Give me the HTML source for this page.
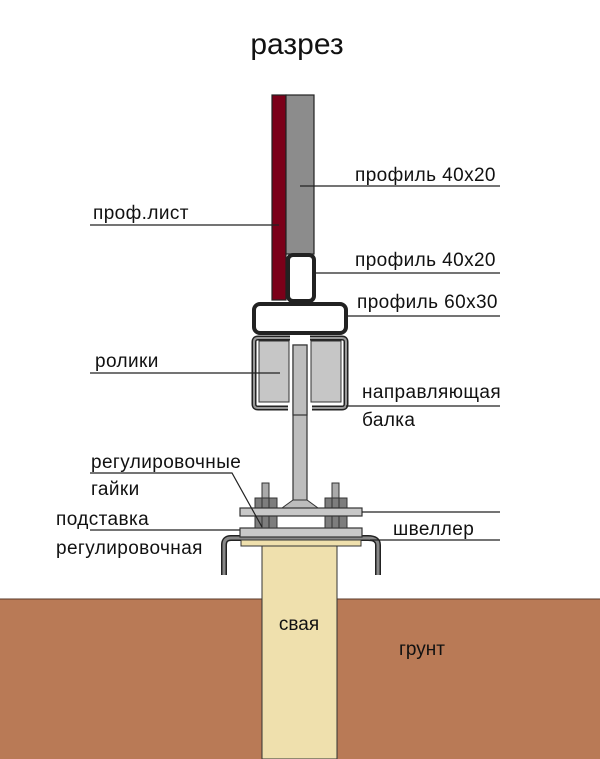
<!DOCTYPE html>
<html><head><meta charset="utf-8"><style>
html,body{margin:0;padding:0;background:#fff}
svg{display:block}
text{font-family:"Liberation Sans","DejaVu Sans",sans-serif;fill:#111}
</style></head><body>
<svg width="600" height="759" viewBox="0 0 600 759" xmlns="http://www.w3.org/2000/svg">
<rect x="0" y="599" width="600" height="160" fill="#b97a56"/>
<line x1="0" y1="599" x2="600" y2="599" stroke="#5a3a2a" stroke-width="1"/>
<rect x="262" y="545" width="75" height="214" fill="#efe0ad" stroke="#333" stroke-width="1"/>
<text x="299" y="630" font-size="19" text-anchor="middle">свая</text>
<text x="422" y="655" font-size="19" text-anchor="middle">грунт</text>
<text x="297" y="54" font-size="30" text-anchor="middle">разрез</text>

<path d="M224 575 L224 545 Q224 538 231 538 L368 538 Q378 538 378 545 L378 575" fill="none" stroke="#222" stroke-width="6"/>
<path d="M224 575 L224 545 Q224 538 231 538 L368 538 Q378 538 378 545 L378 575" fill="none" stroke="#888" stroke-width="3"/>
<rect x="241" y="540" width="120" height="6" fill="#efe0ad" stroke="#333" stroke-width="1"/>
<rect x="240" y="528" width="122" height="9" fill="#c8c8c8" stroke="#333" stroke-width="1.2"/>
<rect x="293" y="345" width="14" height="160" fill="#bdbdbd" stroke="#333" stroke-width="1.2"/>
<path d="M282 508 L293 500 L307 500 L318 508 Z" fill="#bdbdbd" stroke="#333" stroke-width="1"/>
<rect x="262" y="483" width="7" height="16" fill="#aaa" stroke="#333"/>
<rect x="332" y="483" width="7" height="16" fill="#aaa" stroke="#333"/>
<rect x="255" y="498" width="22" height="30" fill="#7d7d7d" stroke="#333"/>
<rect x="325" y="498" width="22" height="30" fill="#7d7d7d" stroke="#333"/>
<line x1="262" y1="498" x2="262" y2="528" stroke="#333"/><line x1="269" y1="498" x2="269" y2="528" stroke="#333"/>
<line x1="332" y1="498" x2="332" y2="528" stroke="#333"/><line x1="339" y1="498" x2="339" y2="528" stroke="#333"/>
<rect x="240" y="508" width="122" height="8" fill="#c8c8c8" stroke="#333" stroke-width="1.2"/>

<path d="M290 338 L258 338 Q254 338 254 342 L254 404 Q254 408 258 408 L288 408 M312 408 L342 408 Q346 408 346 404 L346 342 Q346 338 342 338 L310 338" fill="none" stroke="#222" stroke-width="5"/>
<path d="M290 338 L258 338 Q254 338 254 342 L254 404 Q254 408 258 408 L288 408 M312 408 L342 408 Q346 408 346 404 L346 342 Q346 338 342 338 L310 338" fill="none" stroke="#999" stroke-width="2"/>
<rect x="259" y="341" width="30" height="61" fill="#c6c6c6" stroke="#333"/>
<rect x="311" y="341" width="30" height="61" fill="#c6c6c6" stroke="#333"/>
<rect x="293" y="345" width="14" height="70" fill="#bdbdbd" stroke="#333" stroke-width="1.2"/>
<rect x="254" y="304" width="92" height="29" rx="6" fill="#fff" stroke="#222" stroke-width="4"/>
<rect x="272" y="95" width="14" height="205" fill="#7b0019" stroke="#222" stroke-width="1.2"/>
<rect x="286" y="95" width="28" height="159" fill="#8c8c8c" stroke="#222" stroke-width="1.2"/>
<rect x="288" y="255" width="26" height="46" rx="5" fill="#fff" stroke="#222" stroke-width="4"/>

<g stroke="#222" stroke-width="1.2">
<line x1="90" y1="225" x2="279" y2="225"/>
<line x1="300" y1="186" x2="500" y2="186"/>
<line x1="314" y1="273" x2="500" y2="273"/>
<line x1="346" y1="316" x2="500" y2="316"/>
<line x1="90" y1="373" x2="280" y2="373"/>
<line x1="346" y1="406" x2="500" y2="406"/>
<polyline points="90,473 232,473 262,527" fill="none"/>
<line x1="90" y1="530" x2="240" y2="530"/>
<line x1="362" y1="512" x2="500" y2="512"/>
<line x1="370" y1="540" x2="500" y2="540"/>
</g>
<g font-size="19" letter-spacing="0.4">
<text x="93" y="219">проф.лист</text>
<text x="355" y="181">профиль 40x20</text>
<text x="355" y="266">профиль 40x20</text>
<text x="357" y="308">профиль 60x30</text>
<text x="95" y="367">ролики</text>
<text x="362" y="398">направляющая</text>
<text x="362" y="426">балка</text>
<text x="91" y="468">регулировочные</text>
<text x="91" y="495">гайки</text>
<text x="56" y="525">подставка</text>
<text x="56" y="554">регулировочная</text>
<text x="393" y="535">швеллер</text>
</g>
</svg>
</body></html>
